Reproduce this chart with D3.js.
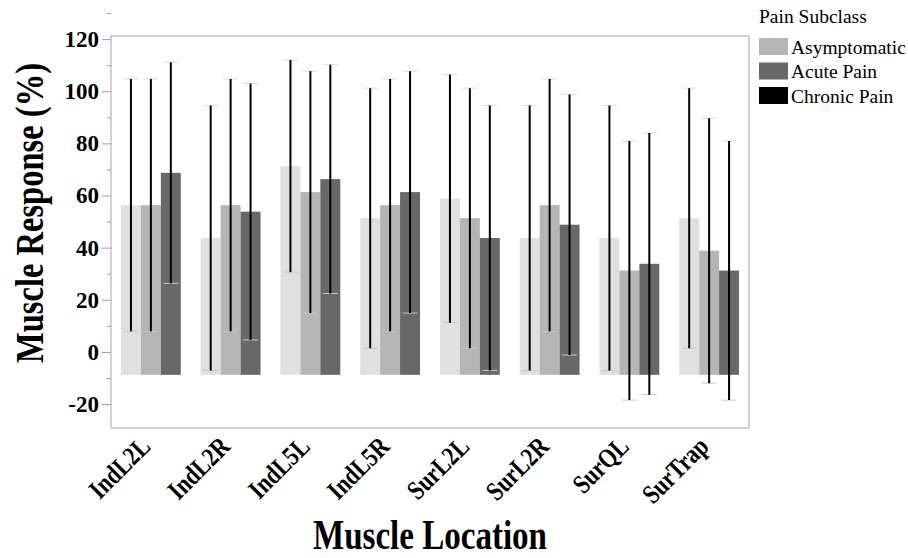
<!DOCTYPE html>
<html>
<head>
<meta charset="utf-8">
<script src="https://cdn.jsdelivr.net/npm/d3@7"></script>
<style>
  html, body { margin: 0; padding: 0; background: #ffffff; }
  svg { display: block; }
</style>
</head>
<body>
<svg id="chart" width="908" height="558"></svg>
<script>
// Muscle locations on the x axis
const locations = ["IndL2L", "IndL2R", "IndL5L", "IndL5R", "SurL2L", "SurL2R", "SurQL", "SurTrap"];

// Pain subclasses (legend order)
const subclasses = ["Asymptomatic", "Acute Pain", "Chronic Pain"];

// Mean muscle response (%) per location
const asymptomaticMean = [56.3, 43.7, 71.3, 51.3, 58.8, 43.7, 43.7, 51.3];
const acuteMean        = [56.3, 56.3, 61.3, 56.3, 51.3, 56.3, 31.2, 38.8];
const chronicMean      = [68.7, 53.8, 66.3, 61.3, 43.7, 48.8, 33.8, 31.2];

// Standard deviation per location (error bars = mean ± SD)
const asymptomaticSD = [48.4, 50.8, 40.7, 49.9, 47.6, 50.8, 50.8, 49.9];
const acuteSD        = [48.4, 48.4, 46.4, 48.4, 49.9, 48.4, 49.7, 50.8];
const chronicSD      = [42.4, 49.2, 43.9, 46.4, 50.8, 50.0, 50.2, 49.7];

// Bars rise from this floor value rather than from zero
const barFloor = -8.8;

// Y axis tick values
const yTickLabels = [-20, 0, 20, 40, 60, 80, 100, 120];
const yMinorTicks = [-10, 10, 30, 50, 70, 90, 110, 130];

const means = [asymptomaticMean, acuteMean, chronicMean];
const sds = [asymptomaticSD, acuteSD, chronicSD];

const rows = [];
locations.forEach((loc, i) => {
  subclasses.forEach((s, j) => {
    rows.push({ loc, sub: s, mean: means[j][i], sd: sds[j][i] });
  });
});

const SERIF = '"Liberation Serif", "Times New Roman", Times, serif';
const barFill = { "Asymptomatic": "#e0e0e0", "Acute Pain": "#b5b5b5", "Chronic Pain": "#686868" };
const legendFill = { "Asymptomatic": "#b5b5b5", "Acute Pain": "#686868", "Chronic Pain": "#000000" };

const svg = d3.select("#chart");
const plot = { left: 111, right: 749, top: 36, bottom: 428 };

const x = d3.scaleBand().domain(locations).range([plot.left, plot.right])
  .paddingInner(0.25).paddingOuter(0.125);
const xs = d3.scaleBand().domain(subclasses).range([0, x.bandwidth()]);
const y = d3.scaleLinear().domain([-29.2, 121.2]).range([plot.bottom, plot.top]);

// Plot frame
svg.append("rect")
  .attr("x", plot.left).attr("y", plot.top)
  .attr("width", plot.right - plot.left).attr("height", plot.bottom - plot.top)
  .attr("fill", "none").attr("stroke", "#c4c4c4").attr("stroke-width", 1.5);

// Y axis: labelled major ticks and short minor ticks
const yAxis = d3.axisLeft(y).tickValues(yTickLabels).tickSize(9).tickPadding(3)
  .tickFormat(d => String(d));
const gy = svg.append("g").attr("transform", `translate(${plot.left},0)`).call(yAxis);
gy.select(".domain").remove();
gy.selectAll(".tick line").attr("stroke", "#9a9a9a").attr("stroke-width", 1);
gy.selectAll(".tick text")
  .attr("font-family", SERIF).attr("font-weight", "bold").attr("font-size", 23)
  .attr("fill", "#000");

const gyMinor = svg.append("g").attr("transform", `translate(${plot.left},0)`)
  .call(d3.axisLeft(y).tickValues(yMinorTicks).tickSize(4).tickFormat(""));
gyMinor.select(".domain").remove();
gyMinor.selectAll(".tick line").attr("stroke", "#9a9a9a").attr("stroke-width", 1);

// Bars
svg.append("g").selectAll("rect").data(rows).join("rect")
  .attr("x", d => x(d.loc) + xs(d.sub))
  .attr("y", d => y(d.mean))
  .attr("width", xs.bandwidth())
  .attr("height", d => y(barFloor) - y(d.mean))
  .attr("fill", d => barFill[d.sub]);

// Error bars (mean ± SD)
const eb = svg.append("g").selectAll("g").data(rows).join("g")
  .attr("transform", d => `translate(${x(d.loc) + xs(d.sub) + xs.bandwidth() / 2},0)`);
eb.append("line")
  .attr("x1", -7.5).attr("x2", 7.5)
  .attr("y1", d => y(d.mean + d.sd)).attr("y2", d => y(d.mean + d.sd))
  .attr("stroke", "#dcdcdc").attr("stroke-width", 1);
eb.append("line")
  .attr("x1", -7.5).attr("x2", 7.5)
  .attr("y1", d => y(d.mean - d.sd)).attr("y2", d => y(d.mean - d.sd))
  .attr("stroke", "#c8c8c8").attr("stroke-width", 1);
eb.append("line")
  .attr("x1", 0).attr("x2", 0)
  .attr("y1", d => y(d.mean + d.sd)).attr("y2", d => y(d.mean - d.sd))
  .attr("stroke", "#000").attr("stroke-width", 2);

// X axis category labels, rotated and slightly condensed
svg.append("g").selectAll("text").data(locations).join("text")
  .attr("transform", d => `translate(${x(d) + x.bandwidth() / 2 + 1},448) rotate(-45)`)
  .attr("text-anchor", "end")
  .attr("font-family", SERIF).attr("font-weight", "bold").attr("font-size", 27)
  .text(d => d)
  .each(function () {
    const w = this.getComputedTextLength();
    d3.select(this).attr("textLength", w * 0.82).attr("lengthAdjust", "spacingAndGlyphs");
  });

// Axis titles
svg.append("text")
  .attr("x", (plot.left + plot.right) / 2).attr("y", 549)
  .attr("text-anchor", "middle")
  .attr("textLength", 234).attr("lengthAdjust", "spacingAndGlyphs")
  .attr("font-family", SERIF).attr("font-weight", "bold").attr("font-size", 42)
  .text("Muscle Location");

svg.append("text")
  .attr("transform", "translate(43,213) rotate(-90)")
  .attr("text-anchor", "middle")
  .attr("textLength", 300).attr("lengthAdjust", "spacingAndGlyphs")
  .attr("font-family", SERIF).attr("font-weight", "bold").attr("font-size", 41)
  .text("Muscle Response (%)");

// Legend
const legend = svg.append("g").attr("transform", "translate(759,0)");
legend.append("text").attr("x", 0).attr("y", 23)
  .attr("font-family", SERIF).attr("font-size", 19.5).text("Pain Subclass");
const li = legend.selectAll("g.item").data(subclasses).join("g").attr("class", "item")
  .attr("transform", (d, i) => `translate(0,${38 + i * 24.5})`);
li.append("rect").attr("width", 29).attr("height", 17).attr("fill", d => legendFill[d]);
li.append("text").attr("x", 32).attr("y", 15.5)
  .attr("font-family", SERIF).attr("font-size", 19.5).text(d => d);
</script>
</body>
</html>
